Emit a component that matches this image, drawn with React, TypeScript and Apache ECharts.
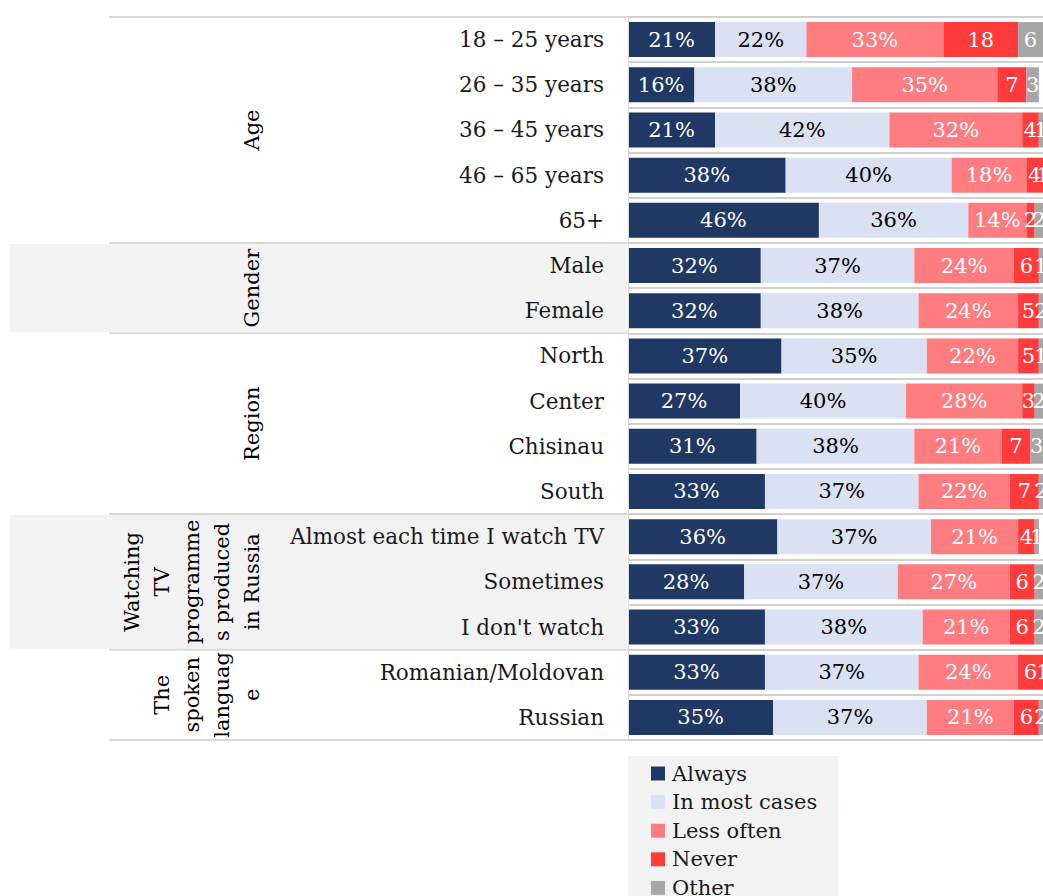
import React, { useEffect, useRef } from "react";
import * as echarts from "echarts";

const categories = [
  "18 – 25 years",
  "26 – 35 years",
  "36 – 45 years",
  "46 – 65 years",
  "65+",
  "Male",
  "Female",
  "North",
  "Center",
  "Chisinau",
  "South",
  "Almost each time I watch TV",
  "Sometimes",
  "I don't watch",
  "Romanian/Moldovan",
  "Russian",
];

const seriesNames = ["Always", "In most cases", "Less often", "Never", "Other"];

const always = [21, 16, 21, 38, 46, 32, 32, 37, 27, 31, 33, 36, 28, 33, 33, 35];
const mostCases = [22, 38, 42, 40, 36, 37, 38, 35, 40, 38, 37, 37, 37, 38, 37, 37];
const lessOften = [33, 35, 32, 18, 14, 24, 24, 22, 28, 21, 22, 21, 27, 21, 24, 21];
const never = [18, 7, 4, 4, 2, 6, 5, 5, 3, 7, 7, 4, 6, 6, 6, 6];
const other = [6, 3, 1, 1, 2, 1, 2, 1, 2, 3, 2, 1, 2, 2, 1, 2];

// groups: label lines, first row index, row count, shaded
const groups = [
  { lines: ["Age"], start: 0, count: 5, shaded: false },
  { lines: ["Gender"], start: 5, count: 2, shaded: true },
  { lines: ["Region"], start: 7, count: 4, shaded: false },
  { lines: ["Watching", "TV", "programme", "s produced", "in Russia"], start: 11, count: 3, shaded: true },
  { lines: ["The", "spoken", "languag", "e"], start: 14, count: 2, shaded: false },
];

const colors = ["#203864", "#D9E1F2", "#FF7C80", "#FF3B3B", "#A6A6A6"];
const labelColors = ["#ffffff", "#000000", "#ffffff", "#ffffff", "#ffffff"];
const FONT = "'DejaVu Serif', serif";

export default function App() {
  const ref = useRef<HTMLDivElement>(null);

  useEffect(() => {
    if (!ref.current) return;
    const chart = echarts.init(ref.current, undefined, { renderer: "svg" });

    const gridLeft = 628;
    const gridTop = 17;
    const gridHeight = 723;
    const gridWidth = 417;
    const band = gridHeight / categories.length;

    const values = [always, mostCases, lessOften, never, other];

    const graphics: any[] = [];
    groups.forEach((g) => {
      if (g.shaded) {
        graphics.push({
          type: "rect",
          z: -10,
          shape: { x: 10, y: gridTop + g.start * band + 1, width: gridLeft - 11, height: g.count * band - 2 },
          style: { fill: "#F2F2F2" },
        });
      }
    });
    const boundaries = [0, ...groups.map((g) => g.start + g.count)];
    boundaries.forEach((b) => {
      const y = gridTop + b * band;
      graphics.push({
        type: "line",
        z: -5,
        shape: { x1: 109, y1: y, x2: gridLeft, y2: y },
        style: { stroke: "#D9D9D9", lineWidth: 2 },
      });
    });
    groups.forEach((g) => {
      const cy = gridTop + (g.start + g.count / 2) * band;
      const n = g.lines.length;
      const lastX = 252;
      const cx = lastX - ((n - 1) * 30) / 2;
      graphics.push({
        type: "text",
        x: cx,
        y: cy,
        rotation: Math.PI / 2,
        style: {
          text: g.lines.join("\n"),
          font: `21px ${FONT}`,
          fill: "#000000",
          textAlign: "center",
          textVerticalAlign: "middle",
          lineHeight: 30,
        },
      });
    });
    graphics.push({
      type: "rect",
      z: -10,
      shape: { x: 628, y: 756, width: 210, height: 150 },
      style: { fill: "#F2F2F2" },
    });

    chart.setOption({
      animation: false,
      backgroundColor: "#ffffff",
      grid: { left: gridLeft, top: gridTop, width: gridWidth, height: gridHeight, containLabel: false },
      xAxis: {
        type: "value",
        min: 0,
        max: 100,
        show: false,
      },
      yAxis: {
        type: "category",
        data: categories,
        inverse: true,
        axisTick: { show: false },
        axisLine: { show: true, lineStyle: { color: "#D9D9D9", width: 1 } },
        splitLine: { show: true, lineStyle: { color: "#D0D0D0", width: 2 } },
        axisLabel: {
          margin: 24,
          fontSize: 21.5,
          fontFamily: FONT,
          color: "#1a1a1a",
        },
        z: 5,
      },
      legend: {
        orient: "vertical",
        left: 651,
        top: 763,
        height: 200,
        padding: 0,
        itemWidth: 14,
        itemHeight: 14,
        itemGap: 7.6,
        icon: "rect",
        data: seriesNames,
        textStyle: { fontSize: 21, fontFamily: FONT, color: "#1a1a1a", padding: [0, 0, 0, 2] },
      },
      graphic: graphics,
      series: seriesNames.map((name, i) => ({
        name,
        type: "bar",
        stack: "total",
        barWidth: 35,
        data: values[i],
        itemStyle: { color: colors[i] },
        label: {
          show: true,
          position: "inside",
          fontSize: 21,
          fontFamily: FONT,
          color: labelColors[i],
          formatter: i < 3 ? "{c}%" : "{c}",
        },
      })),
    });

    return () => chart.dispose();
  }, []);

  return (
    <div
      ref={ref}
      style={{ position: "absolute", left: 0, top: 0, width: 1043, height: 896, background: "#ffffff" }}
    />
  );
}
